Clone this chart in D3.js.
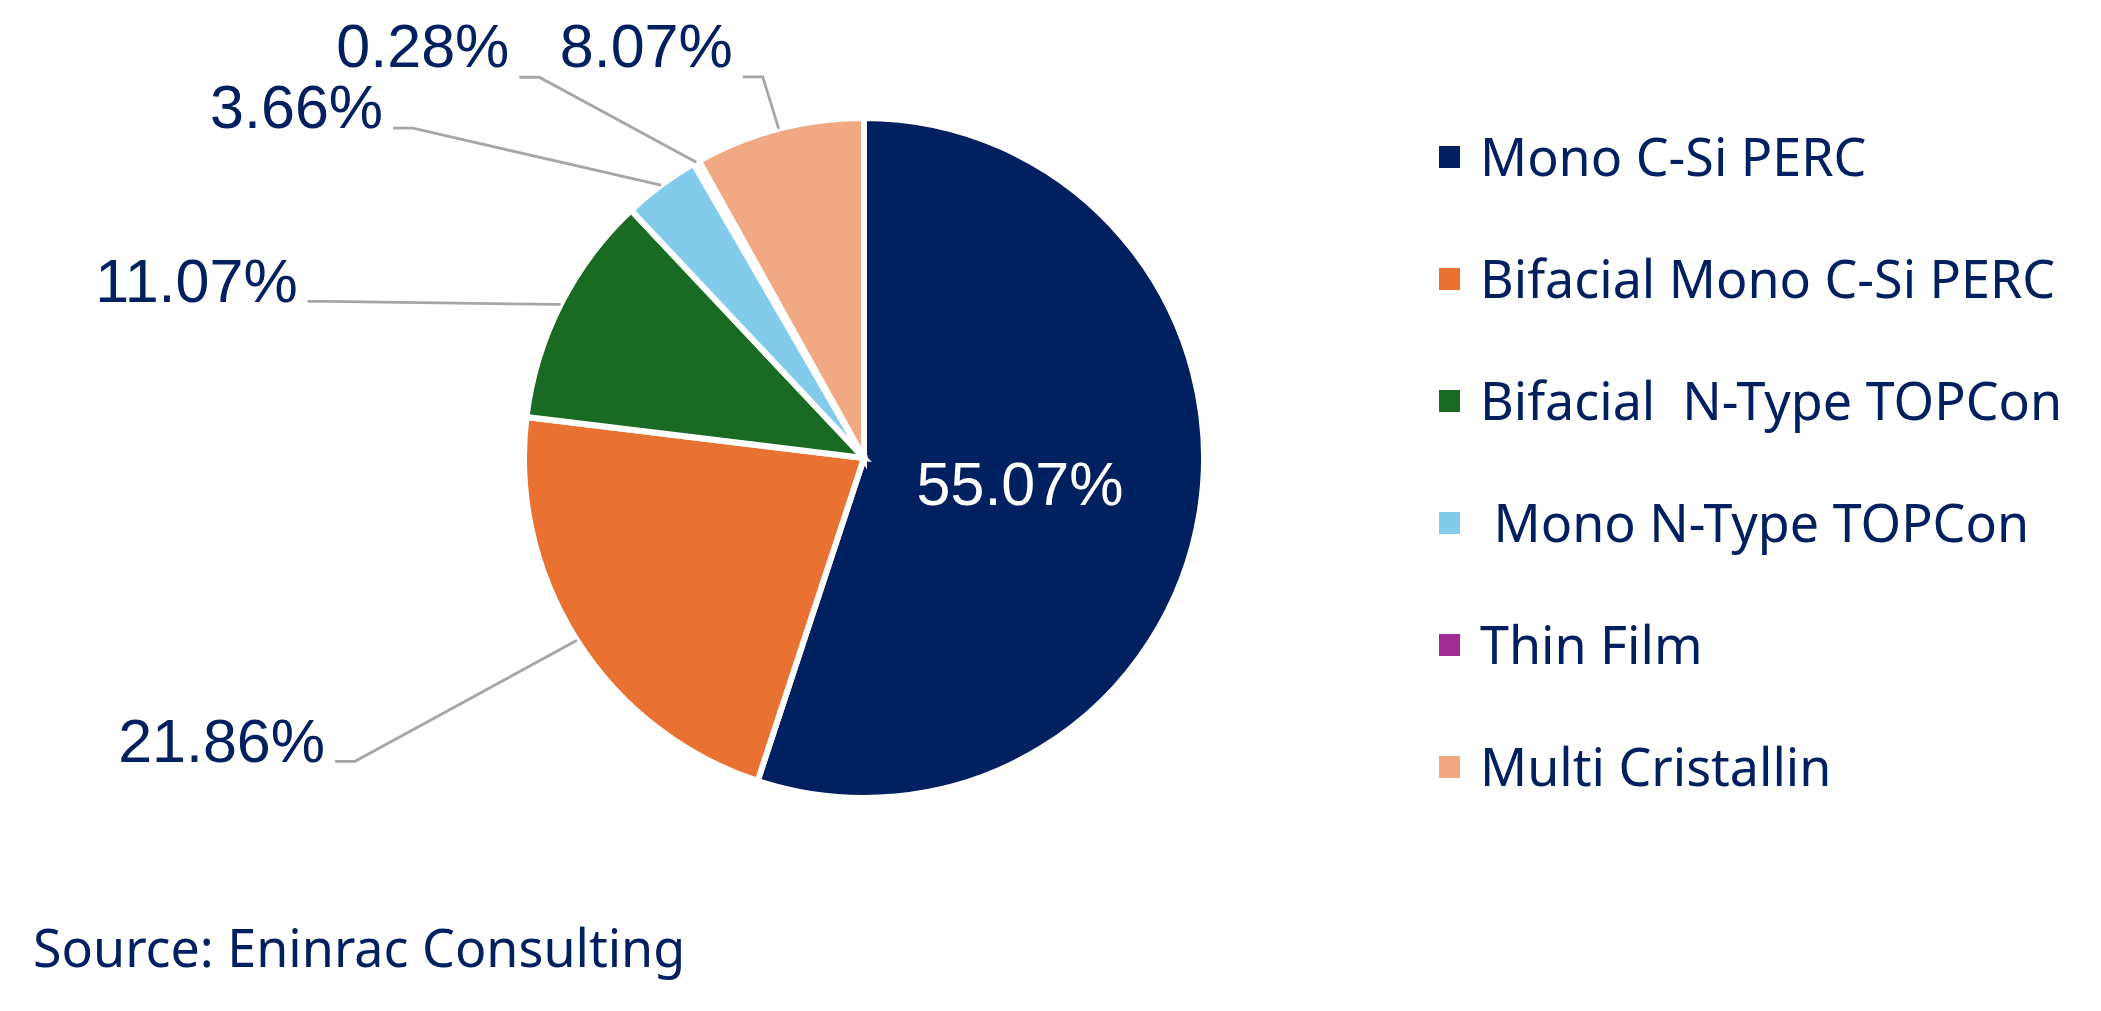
<!DOCTYPE html>
<html>
<head>
<meta charset="utf-8">
<script src="https://cdn.jsdelivr.net/npm/d3@7"></script>
<style>
  html, body { margin: 0; padding: 0; background: #fff; }
  svg { display: block; }
  text { white-space: pre; }
</style>
</head>
<body>
<script>
// Data
const categories = ["Mono C-Si PERC", "Bifacial Mono C-Si PERC", "Bifacial  N-Type TOPCon", " Mono N-Type TOPCon", "Thin Film", "Multi Cristallin"];
const shares = [55.07, 21.86, 11.07, 3.66, 0.28, 8.07];
const sliceColors = ["#002060", "#E97132", "#196B24", "#83CBEB", "#A02B93", "#F1A983"];
const sourceNote = "Source: Eninrac Consulting";

// Layout
const width = 2101, height = 1011;
const cx = 864, cy = 458, radius = 340;
const navy = "#002060";

// where each label sits, relative to the point where its leader leaves the pie
const labelLayout = [
    {inside: true, r: 158},
    {dx: -222, dy: 121, base: 1},
    {dx: -233, dy: -3, base: 1},
    {dx: -248, dy: -57, base: 0},
    {dx: -157, dy: -85, base: -10},
    {dx: -16, dy: -52, base: -10}
];

const svg = d3.select("body")
    .append("svg")
    .attr("width", width)
    .attr("height", height)
    .attr("viewBox", `0 0 ${width} ${height}`);

const pie = d3.pie().sort(null).value(d => d);
const arcs = pie(shares);

const arc = d3.arc().innerRadius(0).outerRadius(radius);
const edgeArc = d3.arc().innerRadius(radius).outerRadius(radius);

const graph = svg.append("g")
    .attr("transform", `translate(${cx},${cy})`);

// slices
graph.append("g")
    .selectAll("path")
    .data(arcs)
    .join("path")
    .attr("d", arc)
    .attr("fill", (d, i) => sliceColors[i])
    .attr("stroke", "#fff")
    .attr("stroke-width", 6)
    .attr("stroke-linejoin", "miter");

// leader lines + outside labels
const leaders = graph.append("g")
    .attr("fill", "none")
    .attr("stroke", "#A6A6A6")
    .attr("stroke-width", 2.8);

const labels = graph.append("g")
    .attr("font-family", "'Liberation Sans', Arial, sans-serif")
    .attr("font-size", 61);

arcs.forEach((d, i) => {
    const lay = labelLayout[i];
    const txt = shares[i].toFixed(2) + "%";
    if (lay.inside) {
        const mid = (d.startAngle + d.endAngle) / 2;
        labels.append("text")
            .attr("x", lay.r * Math.sin(mid))
            .attr("y", -lay.r * Math.cos(mid))
            .attr("dy", "0.36em")
            .attr("text-anchor", "middle")
            .attr("fill", "#fff")
            .text(txt);
        return;
    }
    const [ex, ey] = edgeArc.centroid(d);
    const kx = ex + lay.dx, ky = ey + lay.dy;
    leaders.append("polyline")
        .attr("points", [[ex, ey], [kx, ky], [kx - 20, ky]].map(p => p.join(",")).join(" "));
    labels.append("text")
        .attr("x", kx - 30)
        .attr("y", ky + lay.base)
        .attr("text-anchor", "end")
        .attr("fill", navy)
        .text(txt);
});

// legend
const legend = svg.append("g")
    .attr("transform", "translate(1439,157)")
    .attr("font-family", "'Noto Sans', sans-serif")
    .attr("font-size", 52)
    .attr("fill", navy);

const rows = legend.selectAll("g")
    .data(categories)
    .join("g")
    .attr("transform", (d, i) => `translate(0,${i * 122})`);

rows.append("rect")
    .attr("x", 0)
    .attr("y", -11)
    .attr("width", 21)
    .attr("height", 22)
    .attr("fill", (d, i) => sliceColors[i]);

rows.append("text")
    .attr("x", 41)
    .attr("dy", "0.36em")
    .text(d => d);

// source note
svg.append("text")
    .attr("x", 33)
    .attr("y", 967)
    .attr("font-family", "'Noto Sans', sans-serif")
    .attr("font-size", 52)
    .attr("fill", navy)
    .text(sourceNote);
</script>
</body>
</html>
